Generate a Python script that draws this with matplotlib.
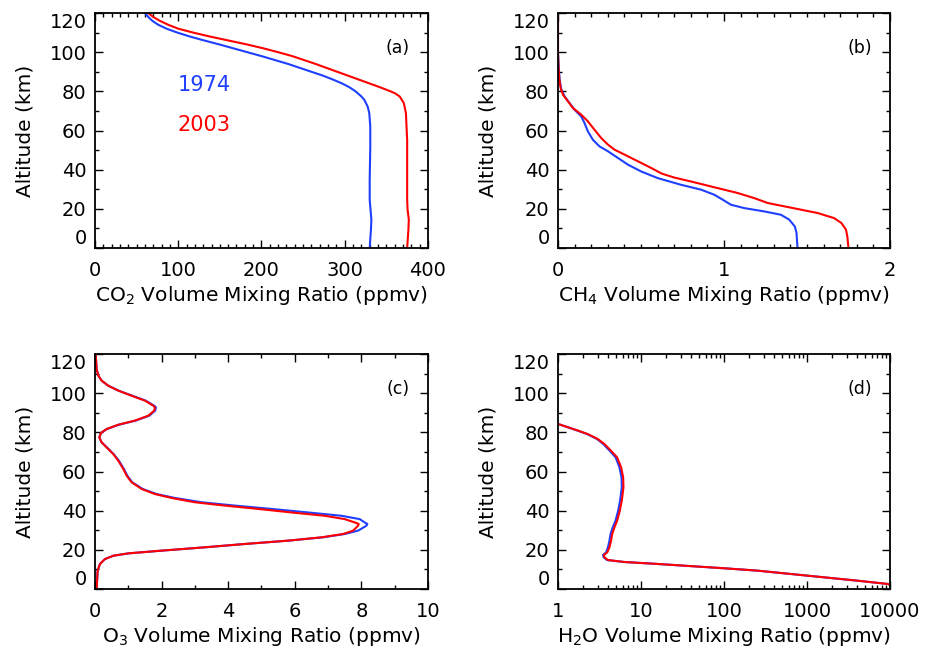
import matplotlib
matplotlib.use("Agg")
import matplotlib.pyplot as plt
from matplotlib.ticker import MultipleLocator, NullFormatter, LogLocator

BLUE = "#1f3fff"
RED = "#ff0000"

# CO2 (ppmv) vs altitude (km)
co2_alt_1974 = [0, 9.4, 14.5, 19.6, 24.7, 34.9, 51.9, 62, 68.9, 72.3, 75.7, 77.4, 80, 82, 84, 86, 88, 90,
                92, 94, 96, 98, 100, 102, 104, 106, 108, 110, 112, 114, 116, 118, 120]
co2_1974 = [330, 331.5, 332, 331, 330, 330, 330.7, 330.7, 329.5, 327.5, 323.5, 320, 313, 306, 297, 286,
            274, 260, 246, 232, 216, 200, 183, 166, 149, 131, 114, 99, 86, 76, 69, 64, 60]
co2_alt_2003 = [0, 9.4, 14.5, 19.6, 24.7, 40, 55, 68.9, 74, 77.4, 79.1, 80, 82, 84, 86, 88, 90, 92, 94,
                96, 98, 100, 102, 104, 106, 108, 110, 112, 114, 116, 118, 120]
co2_2003 = [375, 376.5, 377, 375.5, 375, 375, 375, 373.5, 371, 366, 360, 355, 343, 330, 317, 304, 291,
            278, 265, 251, 237, 220, 202, 182, 160, 138, 118, 100, 88, 78, 70, 64]

# CH4 (ppmv)
ch4_alt_1974 = [0, 7.7, 11, 14.5, 17, 18.7, 20.4, 22.1, 24.7, 27.2, 29.8, 32.3, 35.7, 39.1, 42.6, 46,
                49.4, 51.9, 55.3, 59.6, 63.8, 67.2, 70.6, 74, 77.4, 80.9, 86, 92.8, 100, 120]
ch4_1974 = [1.443, 1.437, 1.427, 1.393, 1.343, 1.242, 1.122, 1.042, 0.992, 0.942, 0.862, 0.741, 0.601,
            0.501, 0.421, 0.361, 0.301, 0.25, 0.21, 0.18, 0.16, 0.14, 0.1, 0.07, 0.04, 0.02, 0.01, 0.004,
            0.0, 0.0]
ch4_alt_2003 = [0, 6, 9.4, 12.8, 15.3, 17.9, 19.6, 21.3, 23, 25.5, 28.1, 30.6, 34, 36, 38, 40.9, 44.3,
                47.7, 50.2, 52.8, 56.2, 60.4, 64.7, 68.1, 71.5, 74.9, 78.3, 81.7, 86, 92.8, 100, 120]
ch4_2003 = [1.75, 1.743, 1.735, 1.707, 1.663, 1.563, 1.463, 1.363, 1.263, 1.182, 1.082, 0.962, 0.80,
            0.70, 0.625, 0.561, 0.481, 0.401, 0.341, 0.301, 0.26, 0.22, 0.18, 0.14, 0.09, 0.06, 0.03,
            0.016, 0.008, 0.003, 0.0, 0.0]

# O3 (ppmv)
o3_alt = [0, 9.4, 12.8, 15.3, 17, 18.2, 19.6, 21.3, 23, 24.7, 26.4, 28.1, 29.8, 32.3, 33.2, 34, 35.7,
          37.4, 39.1, 40.9, 42.6, 44.3, 46.5, 48.5, 51.1, 54.5, 57.9, 61.3, 65.5, 68.9, 72.3, 74.9, 77.4,
          79.7, 81.7, 83.9, 86, 88.5, 91.1, 92.8, 93.6, 96.2, 98.7, 101.3, 103.8, 106.4, 109, 112.3, 120]
o3_2003 = [0.05, 0.08, 0.15, 0.3, 0.55, 1.0, 2.0, 3.3, 4.5, 5.8, 6.8, 7.45, 7.75, 7.9, 7.92, 7.8, 7.5,
           6.9, 5.9, 4.9, 3.9, 3.0, 2.3, 1.8, 1.4, 1.1, 0.95, 0.85, 0.7, 0.55, 0.35, 0.2, 0.13, 0.18,
           0.35, 0.7, 1.2, 1.6, 1.78, 1.8, 1.75, 1.5, 1.1, 0.7, 0.4, 0.2, 0.1, 0.05, 0.02]
o3_1974 = [0.05, 0.08, 0.15, 0.3, 0.55, 1.0, 2.0, 3.3, 4.5, 5.8, 6.85, 7.5, 7.9, 8.15, 8.18, 8.1, 7.95,
           7.4, 6.4, 5.3, 4.2, 3.2, 2.4, 1.85, 1.43, 1.12, 0.97, 0.87, 0.72, 0.56, 0.36, 0.2, 0.13, 0.18,
           0.36, 0.72, 1.22, 1.63, 1.81, 1.83, 1.78, 1.52, 1.12, 0.71, 0.4, 0.2, 0.1, 0.05, 0.02]

# H2O (ppmv)
h2o_alt = [0, 2.0, 2.55, 4.3, 6, 7.7, 9.4, 10.6, 11.7, 12.8, 13.8, 14.8, 16.2, 17.4, 18.7, 21.3, 24.7,
           28.1, 31.5, 34.9, 40, 45.1, 51.9, 57, 62.1, 67.2, 70.6, 74, 76.6, 79.1, 80.9, 82.6, 84.3, 86]
h2o_2003 = [25000, 10000, 9550, 3980, 1585, 631, 251, 100, 39.8, 15.8, 6.3, 4.0, 3.63, 3.57, 3.92, 4.17,
            4.36, 4.5, 4.79, 5.16, 5.56, 5.87, 6.15, 6.1, 5.77, 5.16, 4.36, 3.63, 3.02, 2.29, 1.74, 1.32,
            1.0, 0.75]
h2o_1974 = [25000, 10000, 9550, 3980, 1585, 631, 251, 100, 39.8, 15.8, 6.3, 3.9, 3.55, 3.49, 3.8, 4.0,
            4.17, 4.3, 4.57, 4.93, 5.31, 5.6, 5.87, 5.83, 5.51, 4.95, 4.2, 3.52, 2.95, 2.25, 1.72, 1.31,
            1.0, 0.75]

panels = [
    ("(a)", "CO$_2$ Volume Mixing Ratio (ppmv)", co2_alt_1974, co2_1974, co2_alt_2003, co2_2003),
    ("(b)", "CH$_4$ Volume Mixing Ratio (ppmv)", ch4_alt_1974, ch4_1974, ch4_alt_2003, ch4_2003),
    ("(c)", "O$_3$ Volume Mixing Ratio (ppmv)", o3_alt, o3_1974, o3_alt, o3_2003),
    ("(d)", "H$_2$O Volume Mixing Ratio (ppmv)", h2o_alt, h2o_1974, h2o_alt, h2o_2003),
]

fig = plt.figure(figsize=(9.32, 6.51), dpi=100)
boxes = [
    [0.1019, 0.619, 0.3573, 0.361],
    [0.5987, 0.619, 0.3562, 0.361],
    [0.1019, 0.0952, 0.3573, 0.361],
    [0.5987, 0.0952, 0.3562, 0.361],
]

for i, (tag, xlabel, ya, xa, yb, xb) in enumerate(panels):
    ax = fig.add_axes(boxes[i])
    ax.plot(xa, ya, color=BLUE, lw=1.5)
    ax.plot(xb, yb, color=RED, lw=1.5)

    ax.set_ylim(0, 120)
    ax.set_yticks([0, 20, 40, 60, 80, 100, 120])
    ax.yaxis.set_minor_locator(MultipleLocator(10))

    if i == 0:
        ax.set_xlim(0, 400)
        ax.set_xticks([0, 100, 200, 300, 400])
        ax.xaxis.set_minor_locator(MultipleLocator(10))
    elif i == 1:
        ax.set_xlim(0, 2)
        ax.set_xticks([0, 1, 2])
        ax.set_xticklabels(["0", "1", "2"])
        ax.xaxis.set_minor_locator(MultipleLocator(0.1))
    elif i == 2:
        ax.set_xlim(0, 10)
        ax.set_xticks([0, 2, 4, 6, 8, 10])
        ax.xaxis.set_minor_locator(MultipleLocator(1))
    else:
        ax.set_xscale("log")
        ax.set_xlim(1, 10000)
        ax.set_xticks([1, 10, 100, 1000, 10000])
        ax.set_xticklabels(["1", "10", "100", "1000", "10000"])
        ax.xaxis.set_minor_locator(LogLocator(base=10, subs=range(2, 10)))
        ax.xaxis.set_minor_formatter(NullFormatter())

    ax.tick_params(which="both", direction="in", top=True, right=True, width=1.0, labelsize=14)
    ax.tick_params(which="major", length=6)
    ax.tick_params(which="minor", length=3)
    ax.tick_params(axis="x", pad=9)
    ax.tick_params(axis="y", pad=6)
    for s in ax.spines.values():
        s.set_linewidth(1.3)

    ylabs = ax.get_yticklabels()
    ylabs[0].set_va("bottom")
    ylabs[-1].set_va("top")

    ax.set_xlabel(xlabel, fontsize=14.5, labelpad=3)
    ax.set_ylabel("Altitude (km)", fontsize=14.5, labelpad=11)
    ax.text(0.91, 0.85, tag, transform=ax.transAxes, ha="center", va="center", fontsize=12.5)

    if i == 0:
        ax.text(131, 83, "1974", color=BLUE, fontsize=15, ha="center", va="center")
        ax.text(131, 63, "2003", color=RED, fontsize=15, ha="center", va="center")

fig.savefig("out.png", dpi=100)
